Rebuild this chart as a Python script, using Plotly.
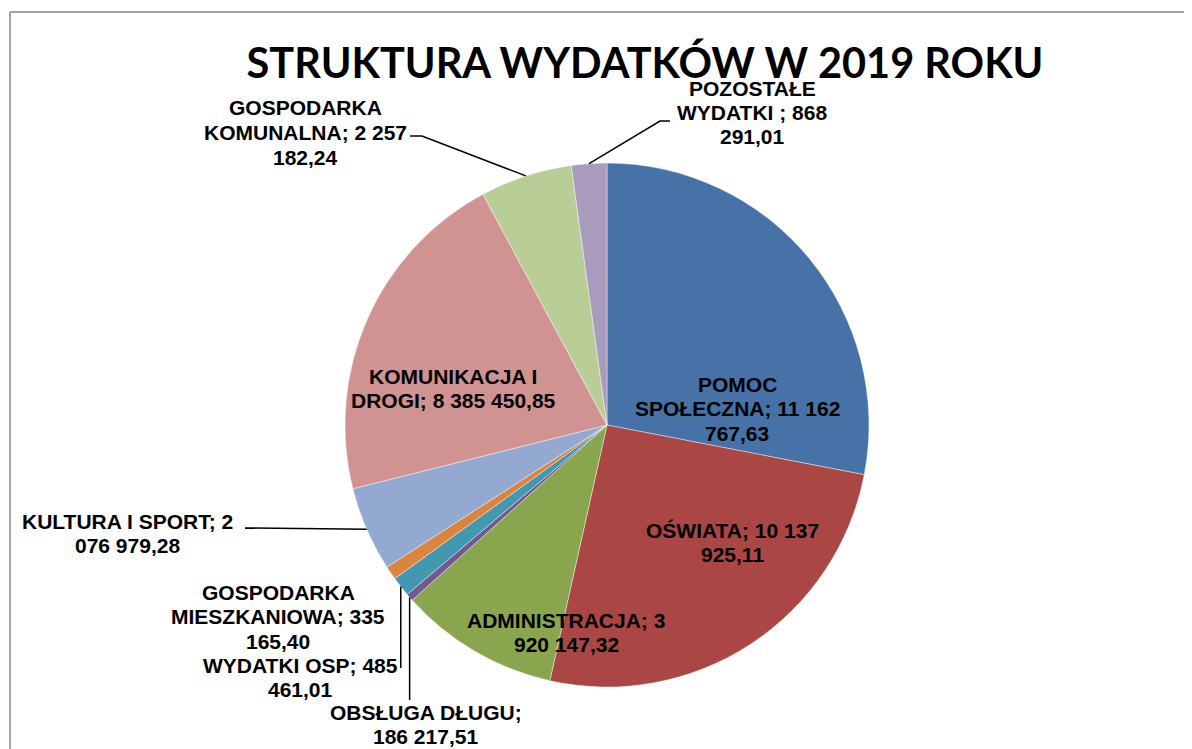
import math
import plotly.graph_objects as go

# ---- data ----
categories = ["POMOC SPOŁECZNA", "OŚWIATA", "ADMINISTRACJA", "OBSŁUGA DŁUGU",
              "WYDATKI OSP", "GOSPODARKA MIESZKANIOWA", "KULTURA I SPORT",
              "KOMUNIKACJA I DROGI", "GOSPODARKA KOMUNALNA", "POZOSTAŁE WYDATKI "]
values = [11162767.63, 10137925.11, 3920147.32, 186217.51, 485461.01,
          335165.40, 2076979.28, 8385450.85, 2257182.24, 868291.01]
colors = ["#4672A7", "#AA4643", "#89A54E", "#71588F", "#4198AF",
          "#DB843D", "#93A9CF", "#D19392", "#B9CD96", "#A99BBD"]
title_text = "STRUKTURA WYDATKÓW W 2019 ROKU"

# ---- layout parameters ----
OFF = 8                      # page body margin of the html page
W, H = 1192 - OFF, 749 - OFF
CX, CY, R = 607, 425, 262
# word index breaks for wrapping each label
breaks = [[1, 4], [3], [2], [2], [3], [1, 3], [4], [2], [1, 4], [1, 3]]
# label centre x and first line centre y (pixels in screenshot)
label_pos = [(737, 384), (733, 530), (566, 620), (426, 712), (300, 665),
             (278, 592), (127, 521), (453, 376), (305, 108), (752, 88)]
LINE_STEP = 24.5
# leader line extra points (pixels), None = no leader
leaders = [None, None, None, "down:700", "down:668", None,
           [(245, 528)], None, [(422, 136), (410, 136)], [(660, 121), (670, 121)]]


def fmt(v):
    s = f"{v:,.2f}"
    s = s.replace(",", " ").replace(".", ",")
    return s


def px(x):
    return (x - OFF) / W


def py(y):
    return 1 - (y - OFF) / H


fig = go.Figure()
fig.add_trace(go.Pie(
    labels=categories, values=values, sort=False, direction="clockwise",
    rotation=0, textinfo="none", hoverinfo="label+value",
    marker=dict(colors=colors, line=dict(color="rgba(255,255,255,0.7)", width=0.6)),
    domain=dict(x=[px(CX - R), px(CX + R)], y=[py(CY + R), py(CY - R)]),
    showlegend=False,
))

annotations = []
shapes = []
total = sum(values)
cum = 0.0
for i, (name, v) in enumerate(zip(categories, values)):
    mid = (cum + v / 2) / total
    cum += v
    ang = 2 * math.pi * mid
    ex, ey = CX + R * math.sin(ang), CY - R * math.cos(ang)

    txt = f"{name}; {fmt(v)}"
    toks = txt.replace(" ;", "\u0000;").split(" ")
    toks = [t.replace("\u0000", " ") for t in toks]
    b = [0] + breaks[i] + [len(toks)]
    lines = [" ".join(toks[b[k]:b[k + 1]]) for k in range(len(b) - 1)]
    lx, ly = label_pos[i]
    for k, ln in enumerate(lines):
        annotations.append(dict(
            x=px(lx), y=py(ly + k * LINE_STEP), xref="paper", yref="paper",
            text=ln, showarrow=False, xanchor="center", yanchor="middle",
            font=dict(family="Liberation Sans, Arial, sans-serif", size=21,
                      color="#000000", weight="bold"),
        ))

    ld = leaders[i]
    if ld is not None:
        if isinstance(ld, str):
            yend = float(ld.split(":")[1])
            pts = [(ex, ey), (ex, yend)]
        else:
            pts = [(ex, ey)] + list(ld)
        path = "M " + " L ".join(f"{px(x):.5f},{py(y):.5f}" for x, y in pts)
        shapes.append(dict(type="path", path=path, xref="paper", yref="paper",
                           line=dict(color="#000000", width=1.5)))

# chart area border (left and top edges visible)
shapes.append(dict(type="line", xref="paper", yref="paper",
                   x0=px(10), y0=py(12), x1=1, y1=py(12),
                   line=dict(color="#878787", width=1.5)))
shapes.append(dict(type="line", xref="paper", yref="paper",
                   x0=px(10), y0=py(12), x1=px(10), y1=0,
                   line=dict(color="#878787", width=1.5)))

fig.update_layout(
    width=W, height=H, autosize=False,
    margin=dict(l=0, r=0, t=0, b=0),
    paper_bgcolor="white", plot_bgcolor="white",
    title=dict(text=f"<b>{title_text}</b>", x=px(645), y=py(63),
               xanchor="center", yanchor="middle",
               font=dict(family="Lato, sans-serif", size=41.5, color="#000000")),
    annotations=annotations, shapes=shapes,
)

fig.write_html("out.html")
